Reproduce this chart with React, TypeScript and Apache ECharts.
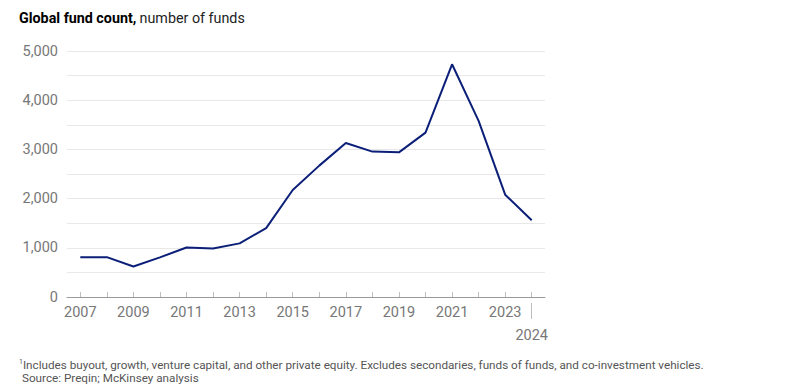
import React, { useEffect, useRef } from "react";
import * as echarts from "echarts";

const years = ["2007","2008","2009","2010","2011","2012","2013","2014","2015","2016","2017","2018","2019","2020","2021","2022","2023","2024"];
const fundCount = [810, 810, 620, 805, 1005, 985, 1090, 1400, 2175, 2670, 3130, 2955, 2940, 3340, 4730, 3580, 2080, 1560];
const yTicks = [0, 1000, 2000, 3000, 4000, 5000];

const FONT = "Roboto, 'Liberation Sans', sans-serif";

export default function App() {
  const ref = useRef<HTMLDivElement>(null);
  useEffect(() => {
    if (!ref.current) return;
    const chart = echarts.init(ref.current, null, { renderer: "svg" });
    chart.setOption({
      animation: false,
      backgroundColor: "#ffffff",
      textStyle: { fontFamily: FONT },
      grid: { left: 67, right: 257, top: 51, bottom: 90, containLabel: false },
      graphic: [
        {
          type: "text",
          left: 19,
          top: 11,
          style: {
            text: "{b|Global fund count,} {r|number of funds}",
            rich: {
              b: { fontFamily: FONT, fontWeight: "bold", fontSize: 14.3, fill: "#000" },
              r: { fontFamily: FONT, fontSize: 14.3, fill: "#222" },
            },
          },
        },
        {
          type: "text",
          left: 19,
          top: 358,
          style: {
            text: "{s|1}{t|Includes buyout, growth, venture capital, and other private equity. Excludes secondaries, funds of funds, and co-investment vehicles.}",
            rich: {
              s: { fontFamily: FONT, fontSize: 7, fill: "#555", verticalAlign: "top", padding: [0, 0, 6, 0] },
              t: { fontFamily: FONT, fontSize: 11.7, fill: "#555" },
            },
          },
        },
        {
          type: "text",
          left: 22,
          top: 372,
          style: { text: "Source: Preqin; McKinsey analysis", fontFamily: FONT, fontSize: 11.7, fill: "#555" },
        },
      ],
      xAxis: [
        {
          type: "category",
          data: years,
          boundaryGap: true,
          axisLine: { lineStyle: { color: "#9a9a9a", width: 1 } },
          axisTick: { show: true, inside: true, length: 5, interval: 0, alignWithLabel: true, lineStyle: { color: "#bdbdbd" } },
          axisLabel: {
            interval: 0,
            margin: 8,
            fontSize: 14.5,
            color: "#777777",
            fontFamily: FONT,
            formatter: (v: string) => (Number(v) % 2 === 1 && v !== "2024" ? v : ""),
          },
          splitLine: { show: false },
        },
        {
          type: "category",
          data: years,
          boundaryGap: true,
          position: "bottom",
          offset: 6,
          axisLine: { show: false },
          axisTick: {
            show: true,
            inside: false,
            length: 16,
            alignWithLabel: true,
            interval: (i: number) => i === years.length - 1,
            lineStyle: { color: "#bdbdbd" },
          },
          axisLabel: {
            interval: 0,
            margin: 25,
            fontSize: 14.5,
            color: "#777777",
            fontFamily: FONT,
            formatter: (v: string) => (v === "2024" ? v : ""),
          },
        },
      ],
      yAxis: {
        type: "value",
        min: 0,
        max: 5000,
        interval: 500,
        axisLine: { show: false },
        axisTick: { show: false },
        axisLabel: {
          margin: 9,
          fontSize: 14.5,
          color: "#777777",
          fontFamily: FONT,
          formatter: (v: number) => (yTicks.includes(v) ? v.toLocaleString("en-US") : ""),
        },
        splitLine: { lineStyle: { color: "#e8e8e8", width: 1 } },
      },
      series: [
        {
          type: "line",
          data: fundCount,
          xAxisIndex: 0,
          symbol: "none",
          lineStyle: { color: "#0b1f78", width: 2 },
        },
      ],
    });
    return () => chart.dispose();
  }, []);
  return <div ref={ref} style={{ position: "fixed", left: 0, top: 0, width: 802, height: 387 }} />;
}
